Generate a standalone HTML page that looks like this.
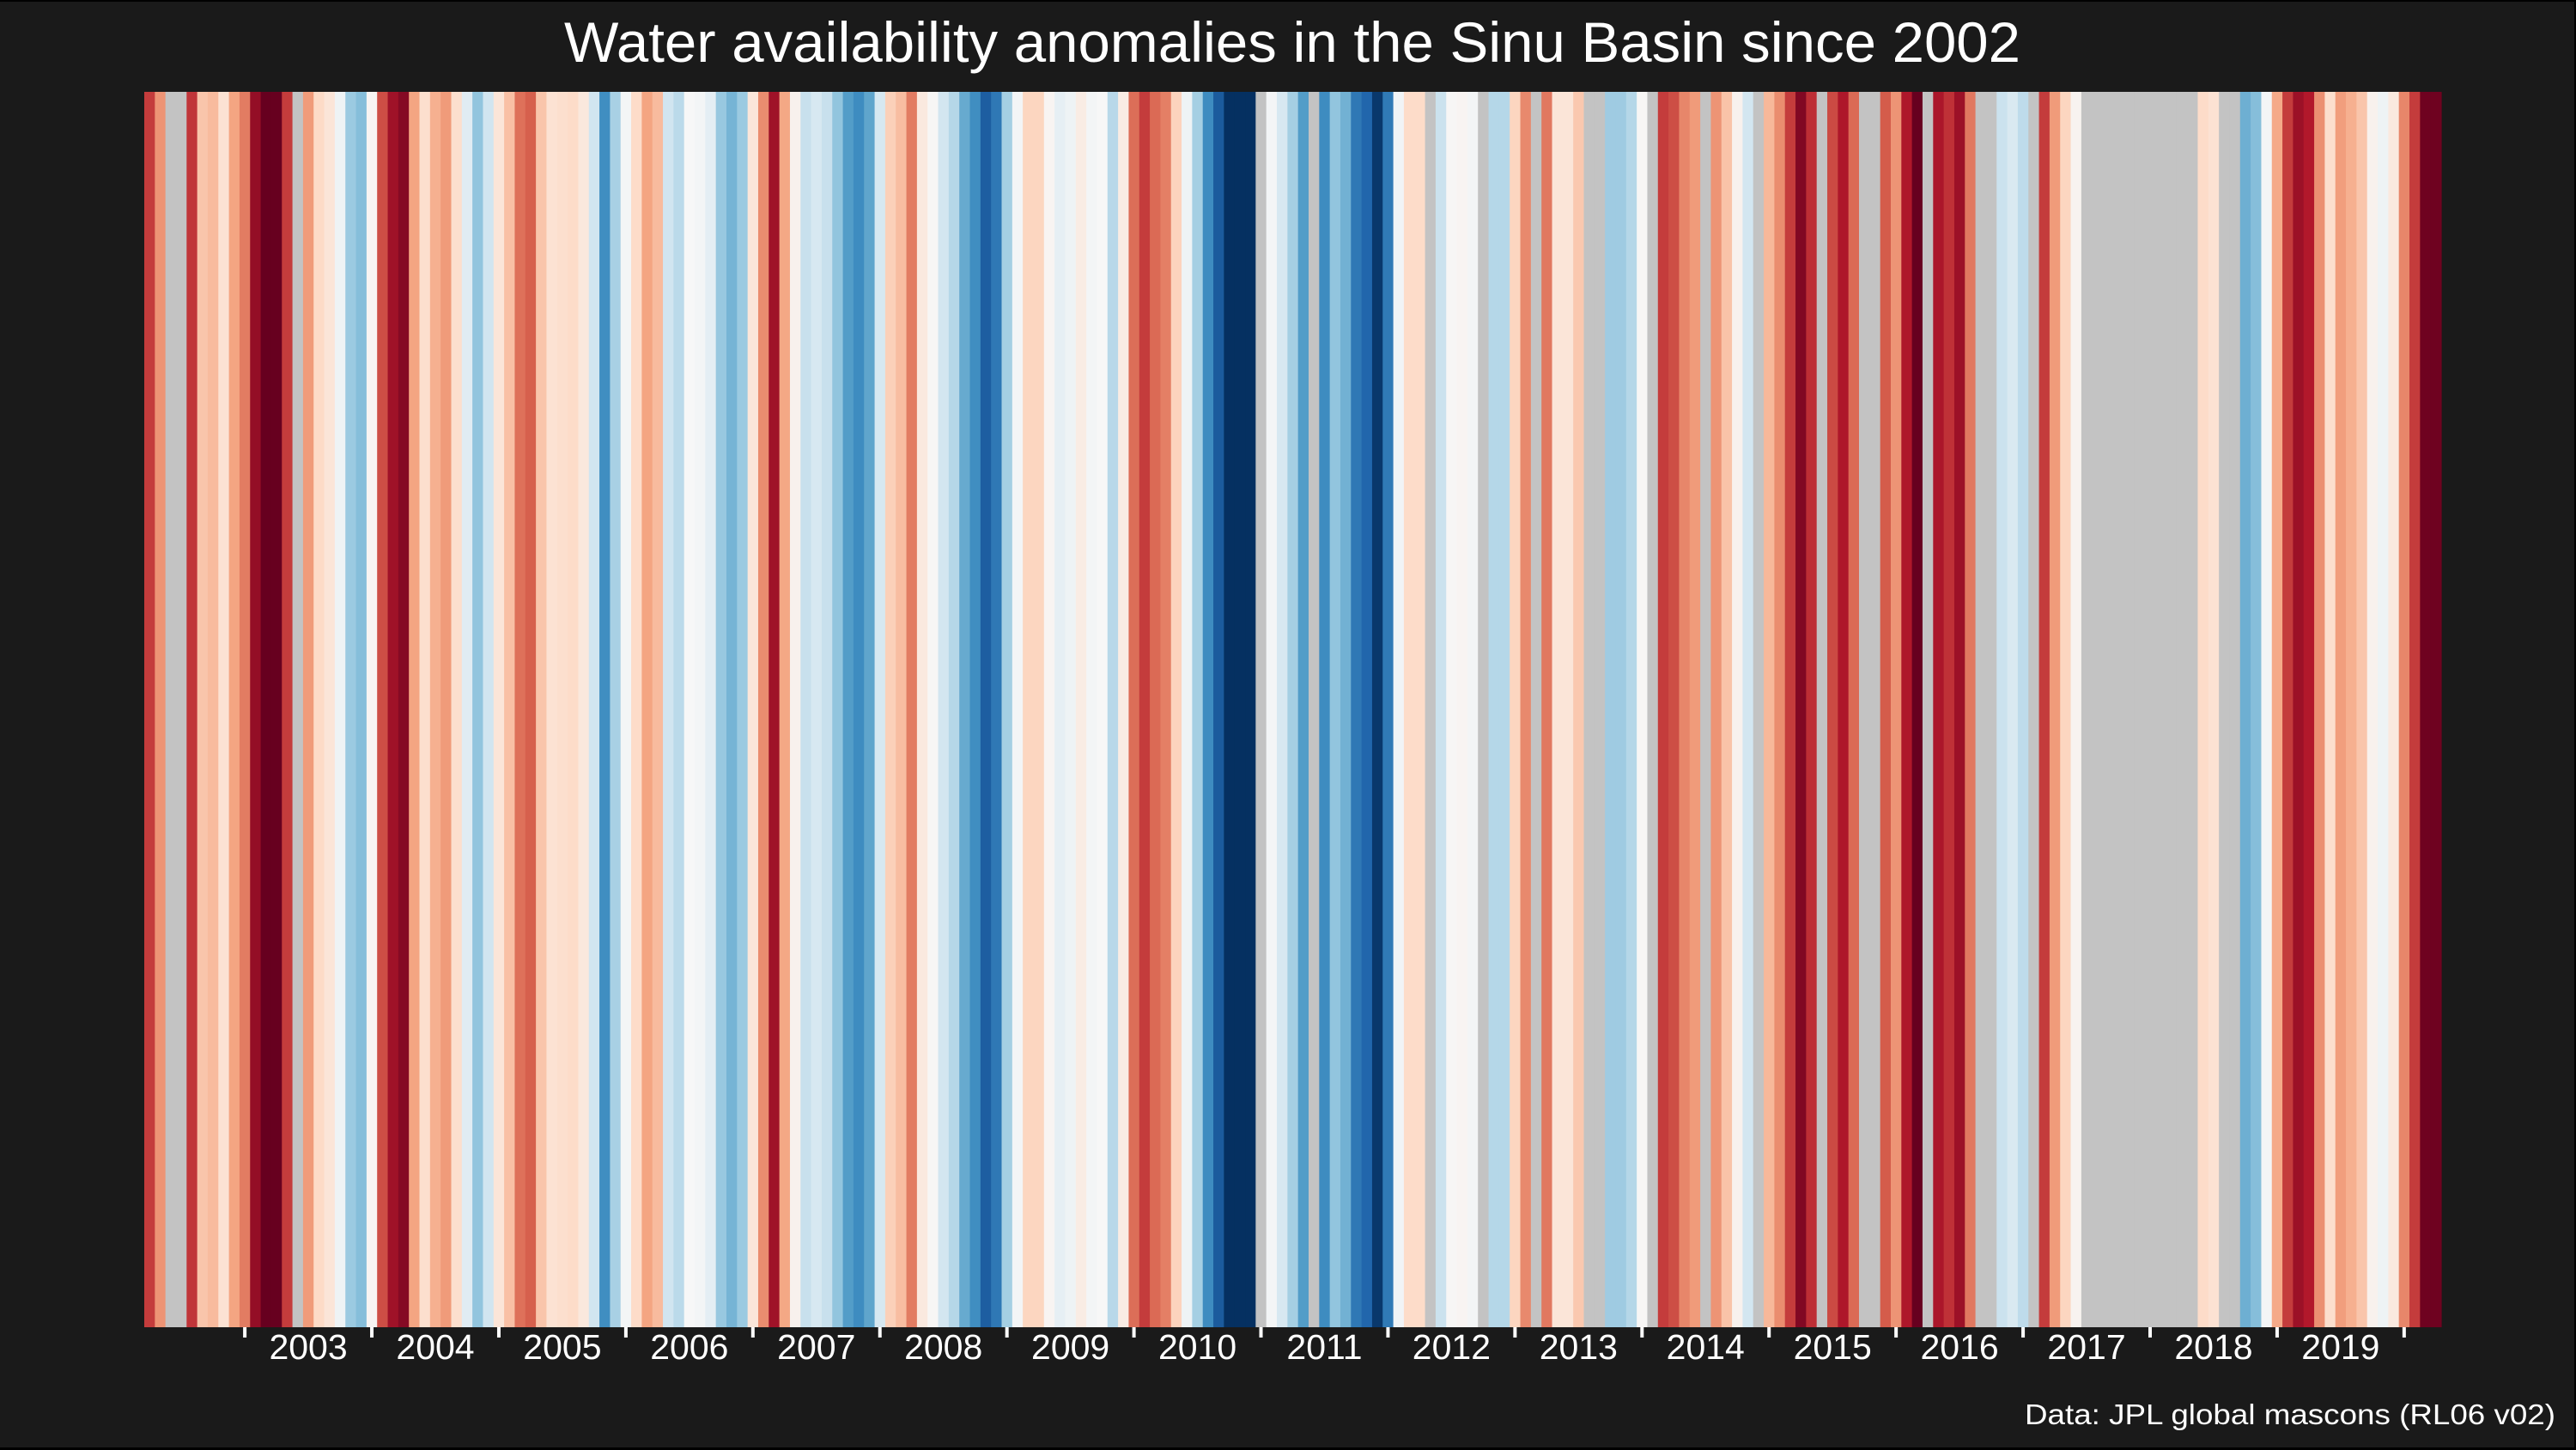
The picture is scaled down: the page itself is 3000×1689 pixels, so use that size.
<!DOCTYPE html>
<html><head><meta charset="utf-8">
<style>
html,body{margin:0;padding:0;background:#000;}
svg{display:block;}
text{font-family:"Liberation Sans",Arial,sans-serif;fill:#fff;}
</style></head>
<body>
<svg id="chart" width="3000" height="1689" viewBox="0 0 3000 1689" xmlns="http://www.w3.org/2000/svg">
<rect x="0" y="2" width="2998" height="1684" fill="#1a1a1a"/>
<text x="1505" y="72" font-size="66" text-anchor="middle" textLength="1696" lengthAdjust="spacingAndGlyphs">Water availability anomalies in the Sinu Basin since 2002</text>
<g id="stripes"></g>
<g id="xaxis"></g>
<text x="2976" y="1659" font-size="33" text-anchor="end" textLength="618" lengthAdjust="spacingAndGlyphs">Data: JPL global mascons (RL06 v02)</text>
</svg>
<script>
// monthly anomalies, Apr 2002 .. Apr 2020 (null = missing month); negative = dry (red), positive = wet (blue)
const startYear = 2002;
const startMonth = 4;
const anomalies = [
-0.7,-0.45,null,null,-0.72,-0.28,-0.32,-0.15,-0.4,-0.52,-0.88,-1,-1,-0.7,null,-0.43,-0.2,-0.13,0.05,0.37,0.43,-0.02,-0.65,-0.85,-0.92,-0.4,-0.17,-0.36,-0.43,-0.17,0.12,0.4,0.2,-0.13,-0.3,-0.55,-0.6,
-0.28,-0.15,-0.17,-0.19,-0.11,0.2,0.62,0.33,0.02,-0.19,-0.4,-0.32,0.2,0.27,0,0.02,0.1,0.38,0.47,0.37,-0.12,-0.47,-0.85,-0.39,-0.04,0.23,0.17,0.23,0.4,0.56,0.63,0.53,0.17,-0.24,-0.31,
-0.52,-0.1,-0.01,0.19,0.29,0.51,0.62,0.83,0.72,0.34,0.02,-0.22,-0.22,-0.02,0.09,0.05,-0.08,0.02,0,0.28,-0.08,-0.56,-0.7,-0.57,-0.51,-0.23,0.05,0.34,0.63,0.84,1,1,1,null,0.02,
0.17,0.34,0.56,null,0.63,0.4,0.48,0.72,0.8,0.97,0.71,0.03,-0.19,-0.19,null,0.22,-0.01,-0.02,0.02,null,0.29,0.29,-0.22,-0.48,null,-0.53,-0.13,-0.13,-0.27,null,null,0.36,0.36,0.29,-0.01,null,
-0.7,-0.65,-0.49,-0.43,null,-0.45,-0.29,-0.04,0.19,null,-0.33,-0.47,-0.7,-0.93,-0.74,null,-0.66,-0.81,-0.57,null,null,-0.61,-0.45,-0.81,-1,null,-0.82,-0.73,-0.86,-0.53,null,null,0.22,0.16,0.26,null,
-0.7,-0.43,-0.22,-0.03,null,null,null,null,null,null,null,null,null,null,null,-0.19,-0.15,null,null,0.49,0.43,0.02,-0.38,-0.7,-0.86,-0.8,-0.46,-0.17,-0.42,-0.36,-0.28,-0.04,0.05,-0.1,-0.49,-0.7,-0.98,-0.98
];
const tickYears = [2003,2004,2005,2006,2007,2008,2009,2010,2011,2012,2013,2014,2015,2016,2017,2018,2019,2020];

const plotLeft = 168, plotRight = 2843, plotTop = 107, plotBottom = 1546;
const n = anomalies.length;
const bw = (plotRight - plotLeft) / n;
function xIndex(i){ return plotLeft + i * bw; }
function monthIndex(y, m){ return (y - startYear) * 12 + (m - startMonth); }
const pal = ["#67001f","#b2182b","#d6604d","#f4a582","#fddbc7","#f7f7f7","#d1e5f0","#92c5de","#4393c3","#2166ac","#053061"];
function hex(c){ return [1,3,5].map(k=>parseInt(c.substr(k,2),16)); }
function colorOf(v){
  if (v === null) return "#c3c3c3";
  let t = (Math.max(-1, Math.min(1, v)) + 1) / 2 * (pal.length - 1);
  let k = Math.min(pal.length - 2, Math.floor(t)), f = t - k;
  let a = hex(pal[k]), b = hex(pal[k+1]);
  return "rgb(" + a.map((x,j)=>Math.round(x + (b[j]-x)*f)).join(",") + ")";
}
const NS = "http://www.w3.org/2000/svg";
const g = document.getElementById("stripes");
anomalies.forEach((v, i) => {
  const r = document.createElementNS(NS, "rect");
  r.setAttribute("x", xIndex(i).toFixed(2));
  r.setAttribute("y", plotTop);
  r.setAttribute("width", (bw + 0.6).toFixed(2));
  r.setAttribute("height", plotBottom - plotTop);
  r.setAttribute("fill", colorOf(v));
  
  
  g.appendChild(r);
});
const ax = document.getElementById("xaxis");
tickYears.forEach(y => {
  const tx = xIndex(monthIndex(y, 1) + 0.5);
  const t = document.createElementNS(NS, "rect");
  t.setAttribute("x", (tx - 2).toFixed(2));
  t.setAttribute("y", plotBottom);
  t.setAttribute("width", 4);
  t.setAttribute("height", 12);
  t.setAttribute("fill", "#ffffff");
  
  
  ax.appendChild(t);
  if (y < 2020) {
    const lx = xIndex(monthIndex(y, 7) + 0.5);
    const l = document.createElementNS(NS, "text");
    l.setAttribute("x", lx.toFixed(2));
    l.setAttribute("y", 1583);
    l.setAttribute("font-size", 41);
    l.setAttribute("text-anchor", "middle");
    l.textContent = String(y);
    
    
    ax.appendChild(l);
  }
});
</script>
</body></html>
